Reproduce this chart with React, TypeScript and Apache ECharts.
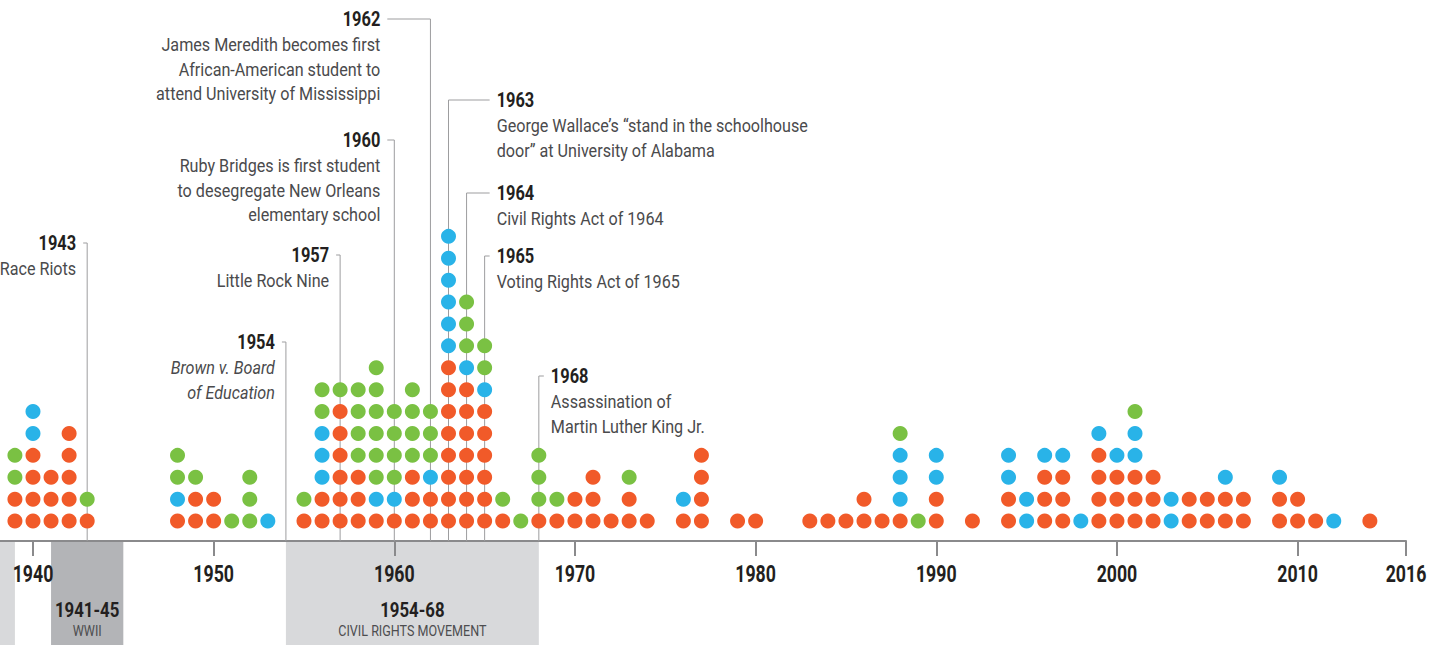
import { useEffect, useRef } from "react";
import * as echarts from "echarts";

// ---- data ----
const YEARS = [
  1939, 1940, 1941, 1942, 1943, 1948, 1949, 1950, 1951, 1952, 1953,
  1955, 1956, 1957, 1958, 1959, 1960, 1961, 1962, 1963, 1964, 1965, 1966, 1967, 1968, 1969,
  1970, 1971, 1972, 1973, 1974, 1976, 1977, 1979, 1980, 1983, 1984, 1985, 1986, 1987, 1988, 1989,
  1990, 1992, 1994, 1995, 1996, 1997, 1998, 1999, 2000, 2001, 2002, 2003, 2004, 2005, 2006, 2007,
  2009, 2010, 2011, 2012, 2014,
];
// stacked dots per year, bottom to top: r = red, g = green, b = blue
const STACKS = [
  "rrgg", "rrrrbb", "rrr", "rrrrr", "rg", "rbgg", "rrg", "rr", "g", "ggg", "b",
  "rg", "rrbbbgg", "rrrrrrg", "rrrgggg", "rbgggggg", "rbgggg", "rrrgggg", "rrbggg", "rrrrrrrrbbbbbb", "rrrrrrrbggg", "rrrrrrbgg", "rg", "g", "rggg", "rg",
  "rr", "rrr", "r", "rrg", "r", "rb", "rrrr", "r", "r", "r", "r", "r", "rr", "r", "rbbbg", "g",
  "rrbb", "r", "rrbb", "bb", "rrrb", "rrrb", "b", "rrrrb", "rrrb", "rrrbbg", "rrr", "bb", "rr", "rr", "rrb", "rr",
  "rrb", "rr", "r", "b", "r",
];
const COLORS: Record<string, string> = { r: "#F15A29", g: "#7AC143", b: "#29B3E8" };
const TICK_YEARS = [1940, 1950, 1960, 1970, 1980, 1990, 2000, 2010, 2016];
const PERIODS = [
  { from: 1930, to: 1939, label: "", sub: "", dark: false },
  { from: 1941, to: 1945, label: "1941-45", sub: "WWII", dark: true },
  { from: 1954, to: 1968, label: "1954-68", sub: "CIVIL RIGHTS MOVEMENT", dark: false },
];
const EVENTS = [
  { year: 1943, side: "left", anchor: 1943, gap: 11, y: 243, lines: ["Race Riots"], italic: false },
  { year: 1954, side: "left", anchor: 1954, gap: 11, y: 342, lines: ["Brown v. Board", "of Education"], italic: true },
  { year: 1957, side: "left", anchor: 1957, gap: 11, y: 255, lines: ["Little Rock Nine"], italic: false },
  { year: 1960, side: "left", anchor: 1960, gap: 14, y: 140, lines: ["Ruby Bridges is first student", "to desegregate New Orleans", "elementary school"], italic: false },
  { year: 1962, side: "left", anchor: 1960, gap: 14, y: 19, lines: ["James Meredith becomes first", "African-American student to", "attend University of Mississippi"], italic: false },
  { year: 1963, side: "right", anchor: 1965, gap: 12, y: 100, lines: ["George Wallace\u2019s \u201cstand in the schoolhouse", "door\u201d at University of Alabama"], italic: false },
  { year: 1964, side: "right", anchor: 1965, gap: 12, y: 193, lines: ["Civil Rights Act of 1964"], italic: false },
  { year: 1965, side: "right", anchor: 1965, gap: 12, y: 256, lines: ["Voting Rights Act of 1965"], italic: false },
  { year: 1968, side: "right", anchor: 1968, gap: 12, y: 376, lines: ["Assassination of", "Martin Luther King Jr."], italic: false },
];

const FONT = "Roboto, 'Liberation Sans', sans-serif";
const X_MIN = 1938.174;
const X_MAX = 2016;
const Y_MIN = 0.09;
const Y_MAX = 24.09;

function txt(x: number, y: number, text: string, o: any) {
  return {
    type: "text",
    z: 10,
    x,
    y,
    scaleX: o.scaleX ?? 1,
    style: {
      text,
      fontFamily: FONT,
      fontWeight: o.bold ? "bold" : "normal",
      fontStyle: o.italic ? "italic" : "normal",
      fontSize: o.size,
      fill: o.fill,
      align: o.align ?? "center",
      verticalAlign: "middle",
    },
  };
}

export default function App() {
  const ref = useRef<HTMLDivElement>(null);
  useEffect(() => {
    if (!ref.current) return;
    const chart = echarts.init(ref.current, null, { renderer: "svg" });

    const data: any[] = [];
    YEARS.forEach((yr, i) => {
      STACKS[i].split("").forEach((c, k) => {
        data.push({ value: [yr, k + 1], itemStyle: { color: COLORS[c], opacity: 1 } });
      });
    });

    chart.setOption({
      animation: false,
      backgroundColor: "#ffffff",
      grid: { left: 0, width: 1406, top: 15.4, bottom: 104 },
      xAxis: {
        type: "value",
        min: X_MIN,
        max: X_MAX,
        splitLine: { show: false },
        axisLine: { show: true, lineStyle: { color: "#8a8a8c", width: 2 } },
        axisTick: { show: true, customValues: TICK_YEARS, length: 15, lineStyle: { color: "#8a8a8c", width: 2 } },
        axisLabel: { show: false },
      },
      yAxis: {
        type: "value",
        min: Y_MIN,
        max: Y_MAX,
        show: false,
      },
      series: [
        {
          type: "scatter",
          symbol: "circle",
          symbolSize: 15,
          z: 5,
          itemStyle: { opacity: 1 },
          data,
        },
      ],
    });

    const px = (yr: number) => chart.convertToPixel({ xAxisIndex: 0 }, yr) as number;
    const axisY = chart.convertToPixel({ yAxisIndex: 0 }, Y_MIN) as number;
    const H = 645;
    const graphics: any[] = [];

    // tick labels
    TICK_YEARS.forEach((t) => {
      graphics.push(txt(px(t), 574, String(t), { size: 23, bold: true, fill: "#231f20", scaleX: 0.77 }));
    });

    PERIODS.forEach((p) => {
      const x0 = Math.max(0, px(p.from));
      const x1 = px(p.to);
      graphics.push({
        type: "rect",
        z: -10,
        shape: { x: x0, y: axisY + 1, width: x1 - x0, height: H - axisY },
        style: { fill: p.dark ? "#b3b4b7" : "#d8d9db" },
      });
      if (p.label) {
        const cx = (x0 + x1) / 2;
        graphics.push(txt(cx, 610, p.label, { size: 21, bold: true, fill: "#231f20", scaleX: 0.8 }));
        graphics.push(txt(cx, 631, p.sub, { size: 15.5, fill: "#4d4d4f", scaleX: 0.81 }));
      }
    });

    EVENTS.forEach((e) => {
      const xl = px(e.year);
      const xa = px(e.anchor);
      const left = e.side === "left";
      const textX = left ? xa - e.gap : xa + e.gap;
      const lineEnd = left ? textX + 7 : textX - 7;
      graphics.push({
        type: "polyline",
        z: 1,
        shape: { points: [[lineEnd, e.y], [xl, e.y], [xl, axisY]] },
        style: { stroke: "#9d9d9f", lineWidth: 1, fill: "none" },
      });
      const align = left ? "right" : "left";
      graphics.push(txt(textX, e.y, String(e.year), { size: 20.5, bold: true, fill: "#231f20", scaleX: 0.8, align }));
      e.lines.forEach((ln, i) => {
        graphics.push(
          txt(textX, e.y + 26 + i * 24.5, ln, { size: 19, italic: e.italic, fill: "#4a4a4c", scaleX: 0.85, align })
        );
      });
    });

    chart.setOption({ graphic: graphics });

    return () => chart.dispose();
  }, []);

  return (
    <div
      ref={ref}
      style={{ position: "fixed", left: 0, top: 0, width: 1446, height: 645, background: "#fff" }}
    />
  );
}
